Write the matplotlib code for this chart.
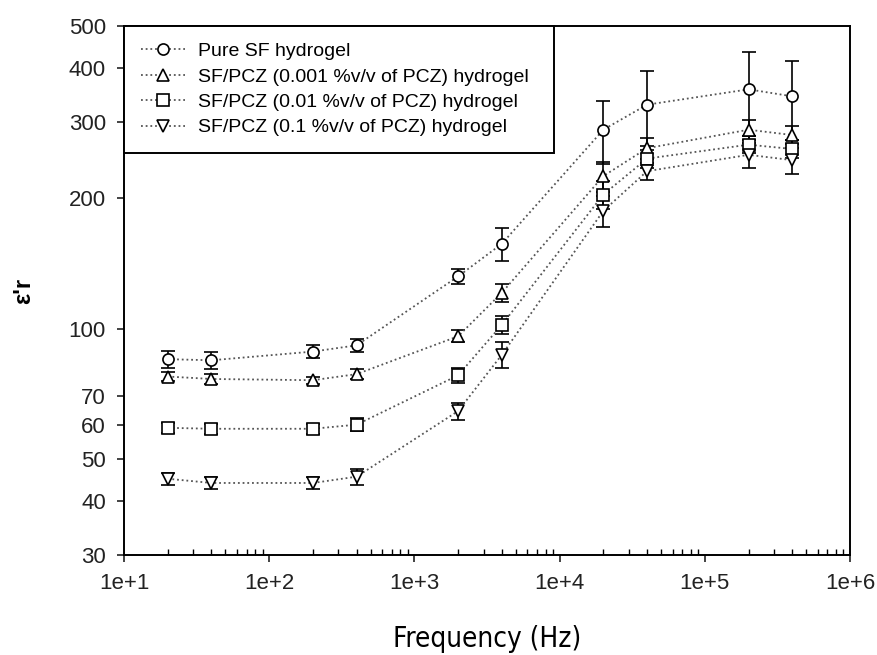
import matplotlib
matplotlib.use('Agg')
import matplotlib.pyplot as plt
import numpy as np
from matplotlib.ticker import FixedLocator, FixedFormatter, LogLocator, NullFormatter

# frequency (Hz)
freq = [20, 40, 200, 400, 2000, 4000, 20000, 40000, 200000, 400000]

# dielectric constant, mean and error
pure = [85, 84.5, 88.5, 91.5, 132, 157, 288, 329, 357, 344]
pure_err = [4, 4, 3, 3, 5, 14, 48, 65, 78, 72]
pcz001 = [77.5, 76.5, 76, 78.5, 96, 121, 225, 261, 288, 280]
pcz001_err = [2, 2, 1.5, 2, 3, 6, 18, 15, 15, 13]
pcz01 = [59, 58.7, 58.7, 60, 78, 102, 204, 247, 266, 260]
pcz01_err = [1.5, 1.5, 1.5, 2, 3, 5, 15, 12, 12, 12]
pcz1 = [45, 44, 44, 45.5, 64.5, 87, 187, 231, 252, 245]
pcz1_err = [1.5, 1.5, 1.5, 2, 3, 6, 15, 10, 17, 17]

labels = ['Pure SF hydrogel',
          'SF/PCZ (0.001 %v/v of PCZ) hydrogel',
          'SF/PCZ (0.01 %v/v of PCZ) hydrogel',
          'SF/PCZ (0.1 %v/v of PCZ) hydrogel']
markers = ['o', '^', 's', 'v']

y_ticks = [30, 40, 50, 60, 70, 100, 200, 300, 400, 500]
x_ticks = [1e1, 1e2, 1e3, 1e4, 1e5, 1e6]
x_ticklabels = ['1e+1', '1e+2', '1e+3', '1e+4', '1e+5', '1e+6']

plt.rcParams['font.family'] = ['Liberation Sans', 'DejaVu Sans']

fig = plt.figure(figsize=(8.77, 6.55), dpi=100)
ax = fig.add_axes([0.1414, 0.1527, 0.9692 - 0.1414, 0.9603 - 0.1527])

series = [(pure, pure_err), (pcz001, pcz001_err), (pcz01, pcz01_err), (pcz1, pcz1_err)]
for (vals, errs), m, lab in zip(series, markers, labels):
    ax.errorbar(freq, vals, yerr=errs, fmt='none', ecolor='black',
                elinewidth=1.2, capsize=5, capthick=1.2, zorder=2)
    ax.plot(freq, vals, linestyle=(0, (1, 1.6)), color='#555555', lw=1.3,
            marker=m, markersize=8, markerfacecolor='white',
            markeredgecolor='black', markeredgewidth=1.2, label=lab, zorder=3)

ax.set_xscale('log')
ax.set_yscale('log')
ax.set_xlim(1e1, 1e6)
ax.set_ylim(30, 500)

ax.xaxis.set_major_locator(FixedLocator(x_ticks))
ax.xaxis.set_major_formatter(FixedFormatter(x_ticklabels))
ax.xaxis.set_minor_locator(LogLocator(base=10, subs=np.arange(2, 10)))
ax.xaxis.set_minor_formatter(NullFormatter())
ax.yaxis.set_major_locator(FixedLocator(y_ticks))
ax.yaxis.set_major_formatter(FixedFormatter([str(v) for v in y_ticks]))
ax.yaxis.set_minor_locator(FixedLocator([]))

ax.tick_params(axis='both', which='major', direction='out', length=5,
               width=1.2, labelsize=16, pad=8, colors='#222222')
ax.tick_params(axis='x', which='minor', direction='in', length=4, width=1)
for s in ax.spines.values():
    s.set_linewidth(1.4)

ax.set_xlabel('Frequency (Hz)', fontsize=20, family='DejaVu Sans',
              fontstretch='condensed', labelpad=22)
ax.set_ylabel("ε'r", fontsize=17, fontweight='bold', labelpad=24)

leg = ax.legend(loc='upper left', bbox_to_anchor=(0, 0, 0.592, 1), mode='expand',
                borderaxespad=0, fancybox=False, fontsize=14, labelspacing=0.4,
                handlelength=2.3, handletextpad=0.65, borderpad=0.85,
                markerscale=1.0)
leg.get_frame().set_edgecolor('black')
leg.get_frame().set_linewidth(1.4)
leg.get_frame().set_alpha(1)

plt.savefig('out.png', dpi=100)
